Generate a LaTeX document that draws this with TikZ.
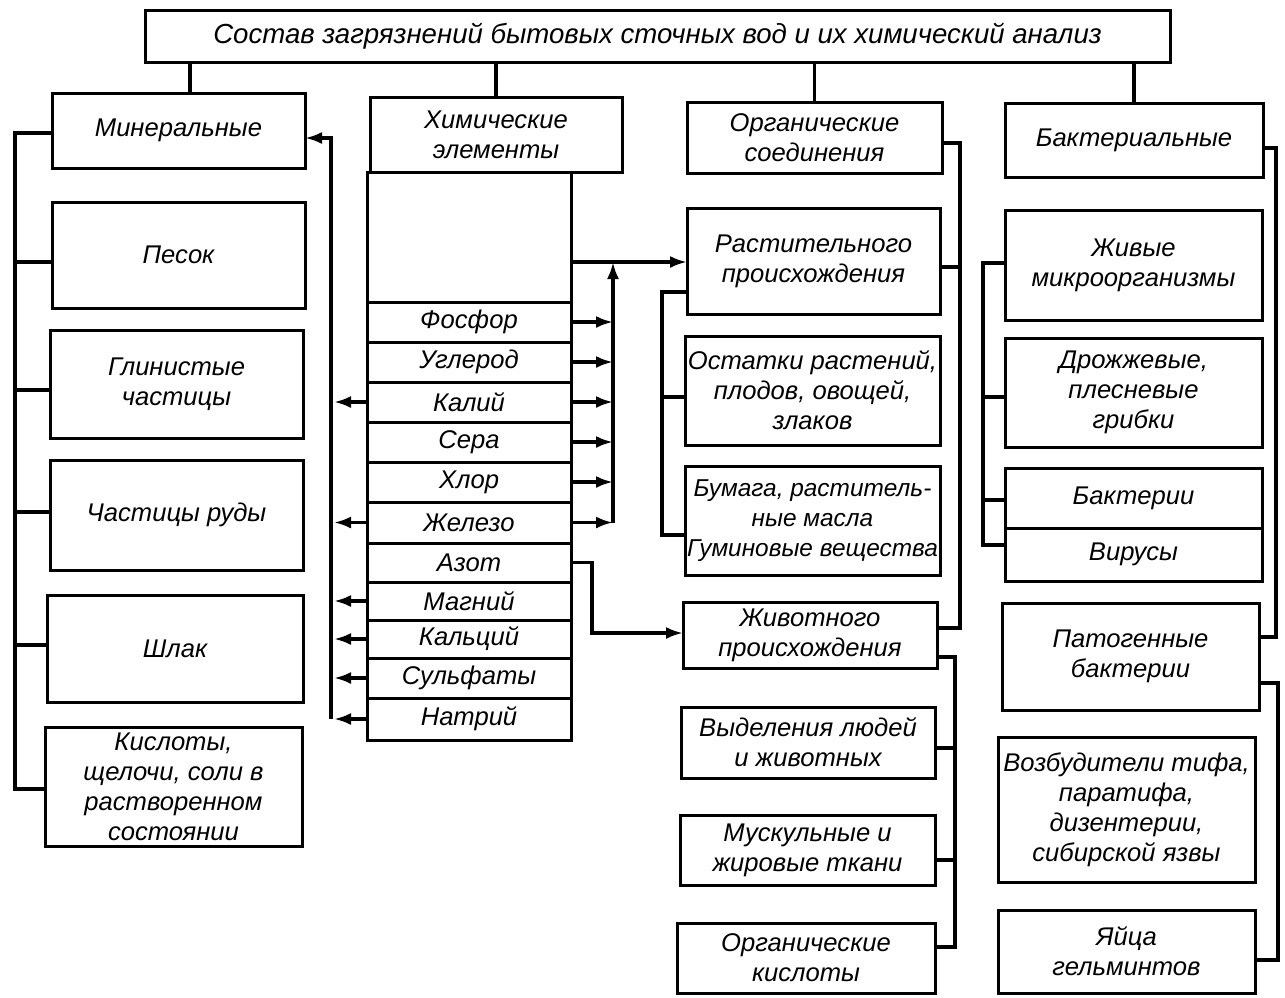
\documentclass[tikz,border=0pt]{standalone}
\usepackage{fontspec}
\setmainfont{Liberation Sans}
\usetikzlibrary{arrows.meta}
% box given by its corners (x1,y1)-(x2,y2), y measured downwards
\newcommand\cellbox[7][]{%
  \node[box,#1,minimum width={(#5-#3)*0.5pt},minimum height={(#6-#4)*0.5pt}]
    (#2) at ({(#3+#5)/2},{-(#4+#6)/2}) {#7};}
\begin{document}
\begin{tikzpicture}[x=0.5pt,y=0.5pt,
  box/.style={draw,fill=white,line width=1.5pt,inner sep=0pt,outer sep=0pt,align=center,
    font=\itshape\fontsize{12.8}{15}\selectfont},
  wire/.style={line width=1.6pt},
  arr/.style={wire,-{Latex[length=8.5pt,width=6pt]}}]
\useasboundingbox (0,0) rectangle (1285,-997);

% ---------- title ----------
\cellbox[font=\itshape\fontsize{13.8}{16}\selectfont]{title}{145}{10}{1170}{62}{Состав загрязнений бытовых сточных вод и их химический анализ}

% ---------- mineral column ----------
\cellbox{mineral}{52}{93}{305}{168}{Минеральные}
\cellbox{sand}{52}{202}{305}{308}{Песок}
\cellbox{clay}{50}{330}{303}{438}{Глинистые\\частицы}
\cellbox{ore}{50}{460}{303}{570}{Частицы руды}
\cellbox{slag}{47}{595}{303}{702}{Шлак}
\cellbox{acid}{45}{727}{302}{846}{Кислоты,\\щелочи, соли в\\растворенном\\состоянии}

% ---------- chemical elements ----------
\cellbox{chemh}{370}{97}{622}{172}{Химические\\элементы}
\cellbox{chemgap}{367}{172}{571}{302}{}
\cellbox{phos}{367}{302}{571}{342}{Фосфор}
\cellbox{carb}{367}{342}{571}{382}{Углерод}
\cellbox{kal}{367}{382}{571}{422}{Калий}
\cellbox{sulf}{367}{422}{571}{462}{Сера}
\cellbox{chlor}{367}{462}{571}{502}{Хлор}
\cellbox{iron}{367}{502}{571}{543}{Железо}
\cellbox{azot}{367}{543}{571}{582}{Азот}
\cellbox{magn}{367}{582}{571}{620}{Магний}
\cellbox{calc}{367}{620}{571}{658}{Кальций}
\cellbox{sulfat}{367}{658}{571}{698}{Сульфаты}
\cellbox{natr}{367}{698}{571}{740}{Натрий}

% ---------- organic compounds ----------
\cellbox{org}{687}{102}{942}{173}{Органические\\соединения}
\cellbox{rast}{687}{208}{940}{314}{Растительного\\происхождения}
\cellbox{ost}{685}{336}{940}{445}{Остатки растений,\\плодов, овощей,\\злаков}
\cellbox[font=\itshape\fontsize{12.2}{15}\selectfont]{bum}{685}{466}{940}{575}{Бумага, раститель-\\ные масла\\Гуминовые вещества}
\cellbox{zhiv}{683}{602}{937}{668}{Животного\\происхождения}
\cellbox{vyd}{681}{707}{935}{778}{Выделения людей\\и животных}
\cellbox{musk}{680}{815}{935}{885}{Мускульные и\\жировые ткани}
\cellbox{okis}{677}{923}{935}{993}{Органические\\кислоты}

% ---------- bacterial ----------
\cellbox{bact}{1005}{103}{1263}{177}{Бактериальные}
\cellbox{zhm}{1005}{210}{1262}{320}{Живые\\микроорганизмы}
\cellbox{droz}{1005}{338}{1262}{447}{Дрожжевые,\\плесневые\\грибки}
\cellbox{bakt}{1005}{468}{1262}{528}{Бактерии}
\cellbox{vir}{1005}{528}{1262}{581}{Вирусы}
\cellbox{pat}{1002}{603}{1259}{710}{Патогенные\\бактерии}
\cellbox{vozb}{998}{737}{1255}{882}{Возбудители тифа,\\паратифа,\\дизентерии,\\сибирской язвы}
\cellbox{yai}{998}{910}{1255}{993}{Яйца\\гельминтов}

% ---------- bus positions ----------
\coordinate (mbus) at (15,0);
\coordinate (cl) at (331,0);
\coordinate (cr) at (613,0);
\coordinate (ob) at (960,0);
\coordinate (rb) at (662,0);
\coordinate (zb) at (955,0);
\coordinate (bb) at (1276,0);
\coordinate (bl) at (983,0);
\coordinate (pb) at (1278,0);

% ---------- title to groups ----------
\draw[wire] (title.south -| 190,0) -- (mineral.north -| 190,0);
\draw[wire] (title.south -| chemh.north) -- (chemh.north);
\draw[wire] (title.south -| org.north) -- (org.north);
\draw[wire] (title.south -| bact.north) -- (bact.north);

% ---------- mineral tree ----------
\draw[wire] (mineral.west |- 0,-133) -- (mbus |- 0,-133) -- (mbus |- 0,-789) -- (acid.west |- 0,-789);
\draw[wire] (sand.west |- 0,-262) -- (mbus |- 0,-262);
\draw[wire] (clay.west |- 0,-390) -- (mbus |- 0,-390);
\draw[wire] (ore.west |- 0,-512) -- (mbus |- 0,-512);
\draw[wire] (slag.west |- 0,-645) -- (mbus |- 0,-645);

% ---------- elements feeding the mineral group ----------
\draw[arr] (cl |- natr.west) -- (cl |- 0,-138) -- (mineral.east |- 0,-138);
\foreach \n in {kal,iron,magn,calc,sulfat,natr}
  \draw[arr] (\n.west) -- ([xshift=1.5]\n.west -| cl);

% ---------- elements feeding the plant-origin group ----------
\foreach \n in {phos,carb,kal,sulf,chlor,iron}
  \draw[arr] (\n.east) -- (\n.east -| cr);
\draw[arr] (cr |- iron.east) -- (cr |- 0,-262);
\draw[arr] (chemgap.east |- 0,-262) -- (rast.west |- 0,-262);

% ---------- nitrogen to the animal-origin group ----------
\draw[arr] (azot.east) -- (azot.east -| 592,0) |- (zhiv.west |- 0,-633);

% ---------- organic tree ----------
\draw[wire] (org.east |- 0,-143) -- (ob |- 0,-143) -- (ob |- 0,-628) -- (zhiv.east |- 0,-628);
\draw[wire] (rast.east |- 0,-267) -- (ob |- 0,-267);
\draw[wire] (rast.west |- 0,-292) -- (rb |- 0,-292) -- (rb |- 0,-535) -- (bum.west |- 0,-535);
\draw[wire] (ost.west |- 0,-397) -- (rb |- 0,-397);
\draw[wire] (zhiv.east |- 0,-657) -- (zb |- 0,-657) -- (zb |- 0,-947) -- (okis.east |- 0,-947);
\draw[wire] (vyd.east |- 0,-748) -- (zb |- 0,-748);
\draw[wire] (musk.east |- 0,-860) -- (zb |- 0,-860);

% ---------- bacterial tree ----------
\draw[wire] (bact.east |- 0,-148) -- (bb |- 0,-148) -- (bb |- 0,-637) -- (pat.east |- 0,-637);
\draw[wire] (zhm.west |- 0,-263) -- (bl |- 0,-263) -- (bl |- 0,-545) -- (vir.west |- 0,-545);
\draw[wire] (droz.west |- 0,-397) -- (bl |- 0,-397);
\draw[wire] (bakt.west |- 0,-500) -- (bl |- 0,-500);
\draw[wire] (pat.east |- 0,-683) -- (pb |- 0,-683) -- (pb |- 0,-960) -- (yai.east |- 0,-960);
\end{tikzpicture}
\end{document}
